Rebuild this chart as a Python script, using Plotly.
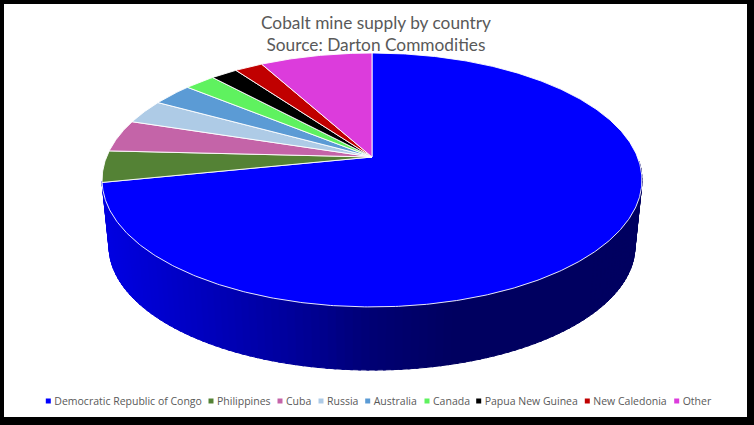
import math
import plotly.graph_objects as go

# --- data -----------------------------------------------------------------
categories = ["Democratic Republic of Congo", "Philippines", "Cuba", "Russia", "Australia",
              "Canada", "Papua New Guinea", "New Caledonia", "Other"]
shares = [71.8, 4.0, 4.1, 3.1, 2.9, 2.2, 1.9, 2.0, 8.0]
colors = ["#0000FF", "#548235", "#C464A8", "#AECBE6", "#5B9BD5",
          "#5FF25F", "#000000", "#C00000", "#DC3CDC"]
title_lines = ["Cobalt mine supply by country", "Source: Darton Commodities"]

# --- layout / projection constants (pixel frame of the picture) ------------
W, H = 754, 425
LEFT, RIGHT, TOP, BOTTOM = 4, 747, 4, 417
CX = 372
APEX_TOP = 157
APEX_BASE = 224
BASE_SCALE = 0.974
A, B_Y, PERSP = 265.5, 122.8, 0.181
LEGEND_X = [48.3, 211, 280, 321, 367.7, 427, 478.7, 587.3, 676.7]
LEGEND_Y = 401
WALL_STOPS = [(105, 225), (200, 190), (300, 150), (372, 115), (450, 96), (500, 96)]
GREY = "#595959"


def project(theta_deg, apex, scale=1.0):
    t = math.radians(theta_deg)
    d = 1 + PERSP * math.cos(t)
    return CX + A * scale * math.sin(t) / d, apex - B_Y * scale * math.cos(t) / d


def wall_color(x):
    if x <= WALL_STOPS[0][0]:
        return f"rgb(0,0,{WALL_STOPS[0][1]})"
    for (x0, c0), (x1, c1) in zip(WALL_STOPS, WALL_STOPS[1:]):
        if x <= x1:
            return f"rgb(0,0,{round(c0 + (c1 - c0) * (x - x0) / (x1 - x0))})"
    return f"rgb(0,0,{WALL_STOPS[-1][1]})"


fig = go.Figure()

# side wall: only the front of the first (largest) slice is visible
total = sum(shares)
first_end = 360 * shares[0] / total
th = 92.0
while th < min(first_end, 268):
    th2 = th + 1.5
    p = [project(th, APEX_TOP), project(th2 + 0.5, APEX_TOP),
         project(th2 + 0.5, APEX_BASE, BASE_SCALE), project(th, APEX_BASE, BASE_SCALE)]
    xs = [q[0] for q in p] + [p[0][0]]
    ys = [q[1] for q in p] + [p[0][1]]
    col = wall_color((p[0][0] + p[1][0]) / 2)
    fig.add_trace(go.Scatter(x=xs, y=ys, mode="lines", fill="toself", fillcolor=col,
                             line=dict(color=col, width=1), hoverinfo="skip", showlegend=False))
    th = th2

# top face slices
start = 0.0
for name, val, col in zip(categories, shares, colors):
    end = start + 360 * val / total
    n = max(2, int((end - start) / 0.5))
    arc = [project(start + (end - start) * i / n, APEX_TOP) for i in range(n + 1)]
    xs = [CX] + [q[0] for q in arc] + [CX]
    ys = [APEX_TOP] + [q[1] for q in arc] + [APEX_TOP]
    fig.add_trace(go.Scatter(x=xs, y=ys, mode="lines", fill="toself", fillcolor=col, name=name,
                             line=dict(color="white", width=0.9), showlegend=False,
                             hovertemplate=f"{name}: {val}%<extra></extra>"))
    start = end

# legend row as real text with square keys
for name, col, lx in zip(categories, colors, LEGEND_X):
    fig.add_trace(go.Scatter(x=[lx], y=[LEGEND_Y], mode="markers",
                             marker=dict(symbol="square", size=5, color=col),
                             hoverinfo="skip", showlegend=False))
    fig.add_trace(go.Scatter(x=[lx + 6], y=[LEGEND_Y + 1], mode="text", text=[name],
                             textposition="middle right",
                             textfont=dict(family="Open Sans", size=10.5, color=GREY),
                             hoverinfo="skip", showlegend=False))

fig.update_layout(
    width=W, height=H,
    margin=dict(l=LEFT, r=W - RIGHT, t=TOP, b=H - BOTTOM, pad=0),
    paper_bgcolor="black", plot_bgcolor="white",
    xaxis=dict(range=[LEFT, RIGHT], visible=False, fixedrange=True),
    yaxis=dict(range=[BOTTOM, TOP], visible=False, fixedrange=True),
    showlegend=False,
    annotations=[dict(text="<br>".join(title_lines), x=376, y=33.5, xref="x", yref="y",
                      showarrow=False, align="center",
                      font=dict(family="Lato", size=17.3, color=GREY))],
)

fig.write_html("out.html", config={"displayModeBar": False},
               post_script="document.body.style.margin='0';document.body.style.overflow='hidden';")
